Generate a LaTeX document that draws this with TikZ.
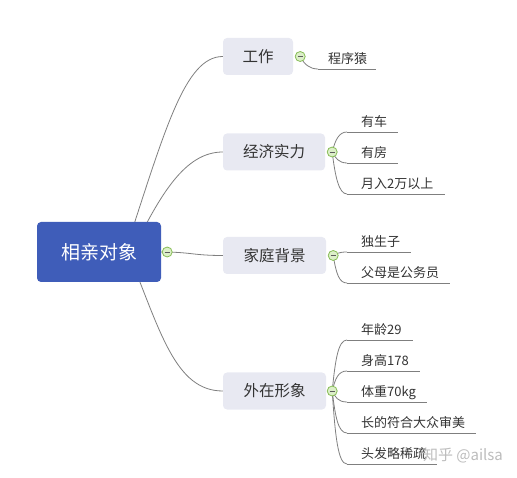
\documentclass[tikz,border=0pt]{standalone}
\usepackage{fontspec}
\setmainfont{Noto Sans CJK SC}
\definecolor{rootblue}{HTML}{3F5DB9}
\definecolor{branchfill}{HTML}{E8E9F2}
\definecolor{txt}{HTML}{333333}
\definecolor{linegray}{HTML}{7F7F7F}
\definecolor{tgfill}{HTML}{DCEFC8}
\definecolor{tgdraw}{HTML}{86BC55}
\pgfdeclarelayer{bg}
\pgfsetlayers{bg,main}
\tikzset{
  rootbox/.style={fill=rootblue, rounded corners=4pt, text=white, font=\fontsize{19}{22}\selectfont, minimum width=124pt, minimum height=60pt, inner sep=0pt},
  branchbox/.style={fill=branchfill, rounded corners=4pt, text=txt, font=\fontsize{15.5}{18}\selectfont, minimum height=37pt, inner sep=0pt},
  leaf/.style={anchor=south west, text=txt, font=\fontsize{13}{15}\selectfont, inner xsep=0pt, inner ysep=3pt, text height=10pt, text depth=2pt},
  toggle/.style={circle, draw=tgdraw, fill=tgfill, line width=0.8pt, minimum size=10pt, inner sep=0pt,
    path picture={\draw[line width=0.9pt, draw=txt!80] ([xshift=-2.6pt]path picture bounding box.center) -- ([xshift=2.6pt]path picture bounding box.center);}},
  conn/.style={draw=linegray, line width=0.8pt},
  uline/.style={draw=linegray, line width=0.8pt},
}
\newcommand{\lf}[1]{\hspace*{14pt}#1\hspace*{11pt}}
\begin{document}
\begin{tikzpicture}[x=1pt,y=-1pt]
\useasboundingbox (0,0) rectangle (517,478);
% root and branches
\node[rootbox] (root) at (99,252) {相亲对象};
\node[branchbox, minimum width=70pt] (work) at (258,56.5) {工作};
\node[branchbox, minimum width=102pt] (econ) at (274,152) {经济实力};
\node[branchbox, minimum width=103pt] (family) at (274.5,255.5) {家庭背景};
\node[branchbox, minimum width=103pt] (looks) at (274.5,391) {外在形象};
% toggles
\node[toggle] (t0) at ([xshift=6pt]root.east) {};
\node[toggle] (t1) at ([xshift=7pt]work.east) {};
\node[toggle] (t2) at ([xshift=7pt]econ.east) {};
\node[toggle] (t3) at ([xshift=7pt]family.east) {};
\node[toggle] (t4) at ([xshift=6pt]looks.east) {};
% leaves
\node[leaf] (w1) at (318,69) {\hspace*{10pt}程序猿\hspace*{9pt}};
\node[leaf] (e1) at (347,132) {\lf{有车}};
\node[leaf] (e2) at (347,163) {\lf{有房}};
\node[leaf] (e3) at (347,194) {\lf{月入2万以上}};
\node[leaf] (f1) at (347,252) {\lf{独生子}};
\node[leaf] (f2) at (347,283) {\lf{父母是公务员}};
\node[leaf] (l1) at (347,340) {\lf{年龄29}};
\node[leaf] (l2) at (347,371) {\lf{身高178}};
\node[leaf] (l3) at (347,402) {\lf{体重70kg}};
\node[leaf] (l4) at (347,433) {\lf{长的符合大众审美}};
\node[leaf] (l5) at (347,464) {\lf{头发略稀疏}};
% watermark
\node[text=gray!70, opacity=0.75, font=\fontsize{15}{18}\selectfont, inner sep=0pt] (wm) at (463,455) {知乎 @ailsa};
\coordinate (rA) at ([xshift=26pt]root.center);
\coordinate (rB) at ([xshift=33pt]root.center);
\coordinate (rC) at ([xshift=29pt]root.center);
\begin{pgfonlayer}{bg}
% root connectors
\draw[conn] (rA) .. controls +(40,-122) and +(-38,0) .. (work.west);
\draw[conn] (rB) .. controls +(28,-57) and +(-38,0) .. (econ.west);
\draw[conn] (root.east) .. controls +(30,0) and +(-30,0) .. (family.west);
\draw[conn] (rC) .. controls +(32,78) and +(-48,0) .. (looks.west);
% leaf underlines
\foreach \n in {w1,e1,e2,e3,f1,f2,l1,l2,l3,l4,l5}
  \draw[uline] (\n.south west) -- (\n.south east);
% leaf connectors
\draw[conn] (t1.center) .. controls +(4,8) and +(-8,0) .. (w1.south west);
\draw[conn] (t2.center) .. controls +(3,-12) and +(-8,0) .. (e1.south west);
\draw[conn] (t2.center) .. controls +(3,6) and +(-8,0) .. (e2.south west);
\draw[conn] (t2.center) .. controls +(3,25) and +(-8,0) .. (e3.south west);
\draw[conn] (t3.center) .. controls +(4,-2) and +(-8,0) .. (f1.south west);
\draw[conn] (t3.center) .. controls +(3,18) and +(-8,0) .. (f2.south west);
\draw[conn] (t4.center) .. controls +(3,-30) and +(-9,0) .. (l1.south west);
\draw[conn] (t4.center) .. controls +(3,-12) and +(-9,0) .. (l2.south west);
\draw[conn] (t4.center) .. controls +(3,6) and +(-9,0) .. (l3.south west);
\draw[conn] (t4.center) .. controls +(3,25) and +(-9,0) .. (l4.south west);
\draw[conn] (t4.center) .. controls +(3,45) and +(-9,0) .. (l5.south west);
\end{pgfonlayer}
\end{tikzpicture}
\end{document}
